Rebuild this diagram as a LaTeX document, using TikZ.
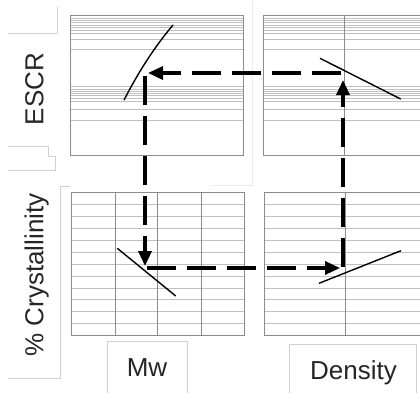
\documentclass[tikz,border=0pt]{standalone}
\usepackage{fontspec}
\setmainfont{Liberation Sans}
\usetikzlibrary{arrows.meta}
\begin{document}
\begin{tikzpicture}[x=1pt,y=-1pt,
  gridline/.style={draw=black!25, line width=0.8pt},
  frame/.style={draw=black!45, line width=0.9pt},
  boxline/.style={draw=black!18, line width=0.8pt},
  faintline/.style={draw=black!7, line width=0.8pt},
  trend/.style={draw=black, line width=1.4pt},
  flow/.style={draw=black, line width=3.3pt, dash pattern=on 29pt off 11pt,
    -{Triangle[length=15pt,width=13pt]}},
  lbl/.style={font=\fontsize{26}{30}\selectfont, text=black!85, inner sep=0pt}]
\useasboundingbox (0,0) rectangle (420,392);
\fill[white] (0,0) rectangle (420,392);

% faint label-box edges
\draw[boxline] (8,33) -- (57,33) -- (57,7);
\draw[boxline] (8,146.7) -- (48.3,146.7) -- (48.3,156.7) -- (55,156.7) -- (55,170) -- (8,170);
\draw[boxline] (70,186.7) -- (60,186.7) -- (60,378.3) -- (8,378.3);
\draw[faintline] (252.7,0) -- (252.7,185) -- (210,185);
\draw[boxline] (107,393) -- (107,341.7) -- (187,341.7) -- (187,393);
\draw[boxline] (289,393) -- (289,344.3) -- (416.7,344.3) -- (416.7,393);

% top panels
\foreach \y in {18.3,20.7,22.7,25,27.3,30,33.3,39.3,49.3,86.7,89,91,93.3,95.7,98.3,101.7,109,120.7} {
  \draw[gridline] (70,\y) -- (243,\y);
  \draw[gridline] (263,\y) -- (421,\y);
}
\draw[frame] (70,15.5) rectangle (243,155);
\draw[frame] (421,15.5) -- (263,15.5) -- (263,155) -- (421,155);
\draw[frame] (344.3,15.5) -- (344.3,155);

% bottom panels
\foreach \k in {1,...,11} {
  \pgfmathsetmacro{\yy}{192.7+\k*11.9}
  \draw[gridline] (71,\yy) -- (244.3,\yy);
  \draw[gridline] (264,\yy) -- (421,\yy);
}
\foreach \x in {115,157.5,201} \draw[frame] (\x,192.7) -- (\x,335.5);
\draw[frame] (71,192.7) rectangle (244.3,335.5);
\draw[frame] (421,192.7) -- (264,192.7) -- (264,335.5) -- (421,335.5);
\draw[frame] (345,192.7) -- (345,335.5);

% trend lines
\draw[trend] (124,100) .. controls (137,75) and (152,50) .. (173,25);
\draw[trend] (320,58.3) -- (400.7,99);
\draw[trend] (117.3,248.3) -- (175.7,296);
\draw[trend] (319,283.3) -- (401,250.7);

% flow arrows
\coordinate (tr) at (341,73);
\coordinate (trtip) at (148,73);
\coordinate (tl) at (145,75.5);
\coordinate (tltip) at (145,266);
\coordinate (bl) at (147,268);
\coordinate (bltip) at (340,268);
\coordinate (br) at (343,267);
\coordinate (brtip) at (343,80);
\draw[flow] (tr) -- (trtip);
\draw[flow] (tl) -- (tltip);
\draw[flow] (bl) -- (bltip);
\draw[flow] (br) -- (brtip);

% labels
\node[lbl, rotate=90, anchor=base] (escr) at (43.3,89) {ESCR};
\node[lbl, rotate=90, anchor=base] (cryst) at (43.3,275) {\% Crystallinity};
\node[lbl, anchor=base] (mw) at (147,376.7) {Mw};
\node[lbl, anchor=base] (dens) at (353.5,379.3) {Density};
\end{tikzpicture}
\end{document}
